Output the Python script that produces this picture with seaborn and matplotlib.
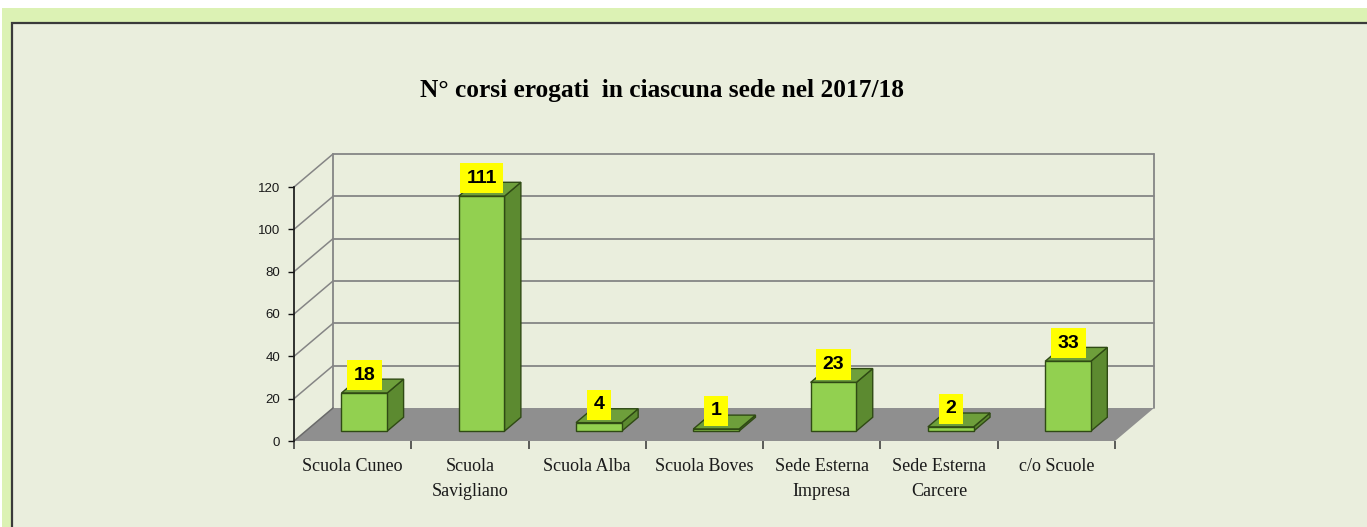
import matplotlib
matplotlib.use("Agg")
import matplotlib.pyplot as plt
import seaborn as sns
import numpy as np
from matplotlib.patches import Polygon, Rectangle
from matplotlib.ticker import FixedLocator
from matplotlib.transforms import offset_copy

# ---------------- data ----------------
categories = ["Scuola Cuneo", "Scuola\nSavigliano", "Scuola Alba", "Scuola Boves",
              "Sede Esterna\nImpresa", "Sede Esterna\nCarcere", "c/o Scuole"]
values = [18, 111, 4, 1, 23, 2, 33]
yticks = [0, 20, 40, 60, 80, 100, 120]
title = "N° corsi erogati  in ciascuna sede nel 2017/18"

# ---------------- style ----------------
W, H, DPI = 1367, 527, 100
FRONT = "#92d050"
SIDE = "#5c8a30"
TOP = "#6e9f3b"
EDGE = "#2f4a14"
FLOOR = "#8f8f8f"
GRID = "#858585"

sns.set_theme(style="white")
plt.rcParams["font.family"] = ["Liberation Serif", "DejaVu Serif"]

fig = plt.figure(figsize=(W / DPI, H / DPI), dpi=DPI)
fig.patch.set_facecolor("white")

# outer green frame and inner panel (decoration)
fig.patches.append(Rectangle((2 / W, -0.1), 1.2, (H - 8) / H + 0.1, transform=fig.transFigure,
                             facecolor="#dcf2b4", edgecolor="none", zorder=-2))
fig.patches.append(Rectangle((12 / W, -0.1), 1.2, (H - 22.5) / H + 0.1, transform=fig.transFigure,
                             facecolor="#eaeedd", edgecolor="#3a3a3a", linewidth=1.6, zorder=-1))

# front plane axes: value 0 at y=441px, value 120 at y=187px, x 294..1115
ax = fig.add_axes([294 / W, (H - 441) / H, (1115 - 294) / W, (441 - 187) / H])
ax.patch.set_alpha(0)

sns.barplot(x=categories, y=values, ax=ax, width=0.39, color=FRONT, saturation=1,
            edgecolor=EDGE, linewidth=1.0, zorder=5)

ax.set_xlim(-0.5, len(categories) - 0.5)
ax.set_ylim(0, 120)

# convert pixel depth offsets into data units
px_x = ((1115 - 294)) / len(categories)          # pixels per x unit
px_y = (441 - 187) / 120.0                       # pixels per y unit
Dx, Dy = 39 / px_x, 33 / px_y                    # full depth of the floor
f0, fd = 0.30, 0.42                              # bar front position / bar depth (fraction)
x_lo, x_hi = -0.5, len(categories) - 0.5

# floor
ax.add_patch(Polygon([(x_lo, 0), (x_hi, 0), (x_hi + Dx, Dy), (x_lo + Dx, Dy)],
                     closed=True, facecolor=FLOOR, edgecolor="none", zorder=1, clip_on=False))
# back wall / side wall grid lines
for v in yticks:
    if v > 0:
        ax.plot([x_lo + Dx, x_hi + Dx], [v + Dy, v + Dy], color=GRID, lw=1.3, zorder=0.5, clip_on=False)
    ax.plot([x_lo, x_lo + Dx], [v, v + Dy], color=GRID if v > 0 else "#6a6a6a", lw=1.1,
            zorder=0.6 if v > 0 else 2, clip_on=False)
ax.plot([x_lo + Dx, x_lo + Dx], [Dy, 120 + Dy], color=GRID, lw=1.3, zorder=0.5, clip_on=False)
ax.plot([x_hi + Dx, x_hi + Dx], [Dy, 120 + Dy], color=GRID, lw=1.3, zorder=0.5, clip_on=False)

# 3D bars: shift front faces, add side & top faces
ddx, ddy = fd * Dx, fd * Dy
for p, v in zip(ax.patches, values):
    x0 = p.get_x() + f0 * Dx
    p.set_x(x0)
    p.set_y(p.get_y() + f0 * Dy)
    p.set_clip_on(False)
    w = p.get_width()
    y0 = p.get_y()
    y1 = y0 + p.get_height()
    x1 = x0 + w
    side = Polygon([(x1, y0), (x1 + ddx, y0 + ddy), (x1 + ddx, y1 + ddy), (x1, y1)],
                   closed=True, facecolor=SIDE, edgecolor=EDGE, linewidth=1.0, zorder=4, clip_on=False)
    top = Polygon([(x0, y1), (x1, y1), (x1 + ddx, y1 + ddy), (x0 + ddx, y1 + ddy)],
                  closed=True, facecolor=TOP, edgecolor=EDGE, linewidth=1.0, zorder=4, clip_on=False)
    ax.add_patch(side)
    ax.add_patch(top)
    tr = offset_copy(ax.transData, fig=fig, x=0, y=20, units="dots")
    ax.text(x0 + w / 2, y1, str(v), transform=tr, ha="center", va="center_baseline",
            fontsize=14, fontweight="bold", family=["Liberation Sans", "DejaVu Sans"],
            color="black", zorder=10,
            bbox=dict(boxstyle="square,pad=0.34", facecolor="#ffff00", edgecolor="none"))

# axes styling
for s in ["top", "right", "bottom"]:
    ax.spines[s].set_visible(False)
ax.spines["left"].set_color("#111111")
ax.spines["left"].set_linewidth(1.2)
ax.spines["left"].set_zorder(6)

ax.set_yticks(yticks)
ax.set_yticklabels([str(t) for t in yticks], family=["Liberation Sans", "DejaVu Sans"],
                   fontsize=9.5, color="#1a1a1a")
ax.tick_params(axis="y", left=True, length=4, width=1, color="#111111", pad=6, direction="out")

ax.set_xticks(range(len(categories)))
ax.set_xticklabels(categories, fontsize=13, color="#1a1a1a", linespacing=1.65)
ax.xaxis.set_minor_locator(FixedLocator(np.arange(len(categories) + 1) - 0.5))
ax.tick_params(axis="x", which="major", bottom=True, length=0, pad=12)
ax.tick_params(axis="x", which="minor", bottom=True, length=6, width=1.1, color="#333333", direction="out")
ax.set_xlabel("")
ax.set_ylabel("")
ax.grid(False)

fig.text(662 / W, 1 - 90 / H, title, ha="center", va="center", fontsize=18.3,
         fontweight="bold", color="black")

fig.savefig("out.png", dpi=DPI, facecolor=fig.get_facecolor())
